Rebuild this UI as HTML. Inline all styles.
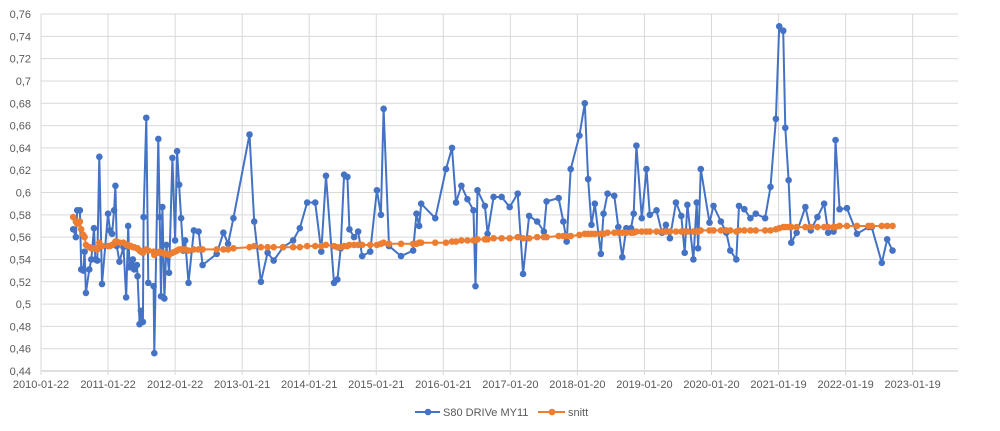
<!DOCTYPE html>
<html><head><meta charset="utf-8"><style>
body{margin:0;background:#fff;}
svg{display:block;font-family:"Liberation Sans",sans-serif;}
</style></head><body>
<svg id="chart" width="1000" height="431" viewBox="0 0 1000 431"></svg>
<script>
const yTicks=[0.44,0.46,0.48,0.5,0.52,0.54,0.56,0.58,0.6,0.62,0.64,0.66,0.68,0.7,0.72,0.74,0.76];
const xTickYears=[2010.06,2011.06,2012.06,2013.06,2014.06,2015.06,2016.06,2017.06,2018.06,2019.06,2020.06,2021.06,2022.06,2023.06];
const xTickLabels=["2010-01-22","2011-01-22","2012-01-22","2013-01-21","2014-01-21","2015-01-21","2016-01-21","2017-01-20","2018-01-20","2019-01-20","2020-01-20","2021-01-19","2022-01-19","2023-01-19"];
const dates=[
2010.54,2010.58,2010.60,2010.64,2010.66,2010.69,2010.71,2010.73,2010.78,2010.81,
2010.85,2010.87,2010.90,2010.93,2010.97,2011.06,2011.09,2011.12,2011.15,2011.17,
2011.19,2011.23,2011.29,2011.33,2011.36,2011.38,2011.40,2011.43,2011.45,2011.49,
2011.50,2011.53,2011.55,2011.58,2011.59,2011.63,2011.66,2011.74,2011.75,2011.81,
2011.83,2011.85,2011.87,2011.90,2011.93,2011.97,2012.02,2012.06,2012.09,2012.12,
2012.15,2012.18,2012.21,2012.26,2012.34,2012.41,2012.47,2012.68,2012.78,2012.85,
2012.93,2013.17,2013.24,2013.34,2013.44,2013.53,2013.67,2013.82,2013.92,2014.03,2014.15,2014.24,2014.31,
2014.43,2014.48,2014.53,2014.58,2014.63,2014.66,2014.73,2014.79,2014.85,2014.97,
2015.07,2015.13,2015.17,2015.25,2015.43,2015.61,2015.66,2015.70,2015.73,2015.94,
2016.10,2016.19,2016.25,2016.33,2016.42,2016.51,2016.54,2016.57,2016.68,2016.72,
2016.81,2016.93,2017.05,2017.17,2017.25,2017.34,2017.46,2017.56,2017.60,2017.78,
2017.85,2017.90,2017.96,2018.09,2018.17,2018.22,2018.27,2018.32,2018.41,2018.45,
2018.51,2018.61,2018.67,2018.73,2018.79,2018.86,2018.90,2018.94,2019.02,2019.09,
2019.14,2019.24,
2019.32,2019.38,2019.44,2019.53,2019.61,2019.66,2019.70,2019.79,2019.84,2019.86,
2019.90,2020.03,2020.09,2020.20,2020.28,2020.34,2020.43,2020.47,2020.55,2020.64,
2020.72,2020.86,2020.94,2021.02,2021.07,2021.13,2021.16,2021.21,2021.25,2021.33,
2021.46,2021.54,2021.64,2021.74,2021.80,2021.88,2021.91,2021.97,2022.08,2022.23,
2022.40,2022.45,2022.60,2022.68,2022.76];
const s80Values=[
.567,.560,.584,.584,.531,.530,.547,.510,.531,.540,
.568,.540,.539,.632,.518,.581,.566,.563,.584,.606,
.552,.538,.551,.506,.570,.533,.535,.540,.531,.535,
.525,.482,.494,.484,.578,.667,.519,.516,.456,.648,
.578,.507,.587,.505,.553,.528,.631,.557,.637,.607,
.577,.548,.557,.519,.566,.565,.535,.545,.564,.554,
.577,.652,.574,.520,.546,.539,.551,.557,.568,.591,.591,.547,.615,
.519,.522,.550,.616,.614,.567,.560,.565,.543,.547,
.602,.580,.675,.552,.543,.548,.581,.570,.590,.577,
.621,.640,.591,.606,.594,.584,.516,.602,.588,.563,
.596,.596,.587,.599,.527,.579,.574,.565,.592,.595,
.574,.556,.621,.651,.680,.612,.571,.590,.545,.581,
.599,.597,.569,.542,.568,.568,.581,.642,.577,.621,
.580,.584,
.564,.571,.559,.591,.579,.546,.589,.540,.591,.550,
.621,.573,.588,.574,.564,.548,.540,.588,.585,.577,
.581,.577,.605,.666,.749,.745,.658,.611,.555,.564,
.587,.566,.578,.590,.564,.565,.647,.585,.586,.563,
.569,.569,.537,.558,.548];
const snittValues=[
.578,.574,.572,.574,.567,.562,.560,.553,.551,.550,
.550,.550,.549,.555,.552,.552,.552,.553,.554,.556,
.556,.555,.555,.553,.553,.552,.552,.551,.551,.550,
.550,.548,.547,.546,.547,.549,.548,.547,.544,.546,
.547,.546,.546,.545,.545,.544,.546,.547,.548,.549,
.549,.549,.549,.548,.549,.549,.549,.549,.549,.549,
.550,.551,.552,.551,.551,.551,.551,.551,.551,.552,.552,.552,.553,
.552,.551,.551,.552,.552,.553,.553,.553,.553,.553,
.553,.554,.555,.554,.554,.554,.554,.555,.555,.555,
.555,.556,.556,.557,.557,.557,.557,.558,.558,.558,
.559,.559,.559,.560,.559,.559,.560,.560,.560,.561,
.561,.561,.561,.562,.563,.563,.563,.563,.563,.563,
.564,.564,.564,.564,.564,.564,.564,.565,.565,.565,
.565,.565,
.565,.565,.565,.565,.565,.565,.565,.565,.565,.565,
.566,.566,.566,.566,.566,.566,.565,.566,.566,.566,
.566,.566,.566,.567,.568,.569,.569,.569,.569,.569,
.569,.569,.569,.569,.569,.569,.569,.570,.570,.570,
.570,.570,.570,.570,.570];

const svg=document.getElementById('chart');
const NS='http://www.w3.org/2000/svg';
const L=41,R=958,T=14,B=371,X0=2010.06,PXY=67.05,YMIN=0.44,YMAX=0.76;
function xs(yr){return L+(yr-X0)*PXY;}
function ys(v){return B-(v-YMIN)/(YMAX-YMIN)*(B-T);}
function mk(tag,attrs,parent){const e=document.createElementNS(NS,tag);for(const k in attrs)e.setAttribute(k,attrs[k]);(parent||svg).appendChild(e);return e;}

const grid=mk('g',{});


yTicks.forEach((v,i)=>{
  const ln=mk('line',{x1:L,x2:R,y1:ys(v),y2:ys(v),stroke:i===0?'#bfbfbf':'#d9d9d9','stroke-width':1},grid);
  
  
  const t=mk('text',{x:31,y:ys(v)+4,'text-anchor':'end','font-size':11,fill:'#595959'});
  t.textContent=String(v).replace('.',',');
  
  
});
xTickYears.forEach((yr,i)=>{
  const ln=mk('line',{x1:xs(yr),x2:xs(yr),y1:T,y2:B+4,stroke:'#d9d9d9','stroke-width':1},grid);
  
  
  const t=mk('text',{x:xs(yr),y:388,'text-anchor':'middle','font-size':11,fill:'#595959'});
  t.textContent=xTickLabels[i];
  
  
});

function series(vals,color,name,r){
  const g=mk('g',{});
  
  
  const n=Math.min(dates.length,vals.length);
  let d='';
  for(let i=0;i<n;i++)d+=(i?'L':'M')+xs(dates[i]).toFixed(1)+' '+ys(vals[i]).toFixed(1);
  const p=mk('path',{d:d,fill:'none',stroke:color,'stroke-width':2,'stroke-linejoin':'round'},g);
  
  
  for(let i=0;i<n;i++){
    const c=mk('circle',{cx:xs(dates[i]),cy:ys(vals[i]),r:r,fill:color},g);
    
    
  }
}
series(s80Values,'#4472C4','s80-series',3.3);
series(snittValues,'#ED7D31','snitt-series',3.3);

const lg=mk('g',{});


const e1=mk('g',{},lg);


mk('line',{x1:415,x2:440,y1:412,y2:412,stroke:'#4472C4','stroke-width':2},e1);
mk('circle',{cx:428,cy:412,r:3.3,fill:'#4472C4'},e1);
const t1=mk('text',{x:443,y:416,'font-size':11,fill:'#595959'},e1);t1.textContent='S80 DRIVe MY11';
const e2=mk('g',{},lg);


mk('line',{x1:538,x2:565,y1:412,y2:412,stroke:'#ED7D31','stroke-width':2},e2);
mk('circle',{cx:552,cy:412,r:3.3,fill:'#ED7D31'},e2);
const t2=mk('text',{x:568,y:416,'font-size':11,fill:'#595959'},e2);t2.textContent='snitt';
</script>
</body></html>
